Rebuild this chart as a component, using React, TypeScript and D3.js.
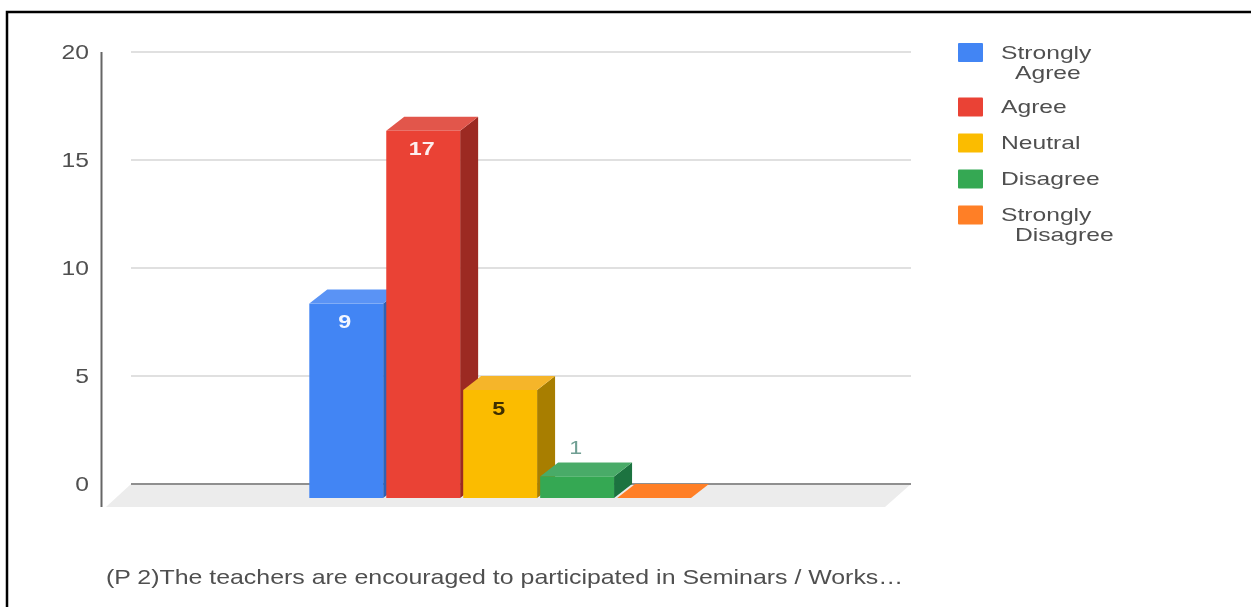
import * as d3 from "d3";

const seriesNames = ["Strongly Agree", "Agree", "Neutral", "Disagree", "Strongly Disagree"];
const seriesValues = [9, 17, 5, 1, 0];
const yTicks = [0, 5, 10, 15, 20];
const caption = "(P 2)The teachers are encouraged to participated in Seminars / Works…";

const frontColors = ["#4285f4", "#ea4335", "#fbbc04", "#34a853", "#ff7f27"];
const topColors = ["#5a93f5", "#e2564c", "#f5b52a", "#4aab68", "#ff7f27"];
const sideColors = ["#2f62b5", "#9c2b22", "#a87e03", "#1c7340", "#c96420"];
const labelColors = ["#f2f6ff", "#fdeeee", "#3d2e00", "#6f9f93", "none"];

const width = 1251;
const height = 607;
const depthX = 18;
const depthY = 14;
const stretch = 1.233;
const legendStretch = 1.37;
const textColor = "#505050";
const fontFamily = "'Liberation Sans', Arial, sans-serif";

// back wall scale, front faces are shifted down by depthY
const y = d3.scaleLinear().domain([0, 20]).range([484, 52]);
const x = d3.scaleBand<string>().domain(seriesNames).range([309.3, 691]).paddingInner(0.04);

const legendRows = [52.5, 107, 143, 179, 215];
const legendLines = [["Strongly", "Agree"], ["Agree"], ["Neutral"], ["Disagree"], ["Strongly", "Disagree"]];

const WideText = ({ x, y, size, fill, anchor, children, weight, sx = stretch }: any) => (
  <text
    transform={`translate(${x} ${y}) scale(${sx} 1)`}
    fontFamily={fontFamily}
    fontSize={size}
    fontWeight={weight}
    fill={fill}
    textAnchor={anchor}
    dominantBaseline="central"
  >
    {children}
  </text>
);

const Bar = ({ index }: { index: number }) => {
  const name = seriesNames[index];
  const value = seriesValues[index];
  const x0 = x(name)!;
  const x1 = x0 + x.bandwidth();
  const base = y(0) + depthY;
  const top = y(value) + depthY;
  const label = value > 0 ? String(value) : "";
  const cx = (x0 + x1) / 2 - 1.5;
  const labelY = value > 1 ? top + 18 : top - 29;

  return (
    <g>
      {value > 0 && (
        <path
          d={`M${x1},${top}L${x1 + depthX},${top - depthY}L${x1 + depthX},${base - depthY}L${x1},${base}Z`}
          fill={sideColors[index]}
        />
      )}
      <path
        d={`M${x0},${top}L${x0 + depthX},${top - depthY}L${x1 + depthX},${top - depthY}L${x1},${top}Z`}
        fill={topColors[index]}
      />
      <rect x={x0} y={top} width={x.bandwidth()} height={base - top} fill={frontColors[index]} />
      {label && (
        <WideText x={cx} y={labelY} size={18.9} fill={labelColors[index]} anchor="middle" weight={value > 1 ? 700 : 400}>
          {label}
        </WideText>
      )}
    </g>
  );
};

export default function App() {
  return (
    <svg
      width={width}
      height={height}
      style={{ position: "absolute", left: 0, top: 0, display: "block", background: "#fff" }}
    >
      <defs>
        <filter id="soft" x="-2%" y="-2%" width="104%" height="104%">
          <feGaussianBlur stdDeviation="0.7" />
        </filter>
      </defs>
      <path d={`M7,${height}V12H${width}`} fill="none" stroke="#000" strokeWidth={2.5} />

      <g filter="url(#soft)">
        <path d="M131,484H911L885,507H106Z" fill="#ececec" />
        {yTicks.map((t) => (
          <g key={t}>
            <line
              x1={131}
              x2={911}
              y1={y(t)}
              y2={y(t)}
              stroke={t === 0 ? "#8f8f8f" : "#e0e0e0"}
              strokeWidth={2}
            />
            <WideText x={89} y={y(t)} size={20} fill={textColor} anchor="end">
              {t}
            </WideText>
          </g>
        ))}
        <line x1={101.5} x2={101.5} y1={y(20)} y2={507} stroke="#666" strokeWidth={2} />

        {seriesNames.map((_, i) => (
          <Bar key={i} index={i} />
        ))}

        {seriesNames.map((name, i) => (
          <g key={name}>
            <rect x={958} y={legendRows[i] - 9.5} width={25} height={19} rx={1} fill={frontColors[i]} />
            {legendLines[i].map((line, j) => (
              <WideText
                key={line}
                x={j === 0 ? 1001 : 1015}
                y={legendRows[i] + j * 20}
                size={18}
                sx={legendStretch}
                fill={textColor}
              >
                {line}
              </WideText>
            ))}
          </g>
        ))}

        <WideText x={106} y={577} size={20.2} fill={textColor}>
          {caption}
        </WideText>
      </g>
    </svg>
  );
}
